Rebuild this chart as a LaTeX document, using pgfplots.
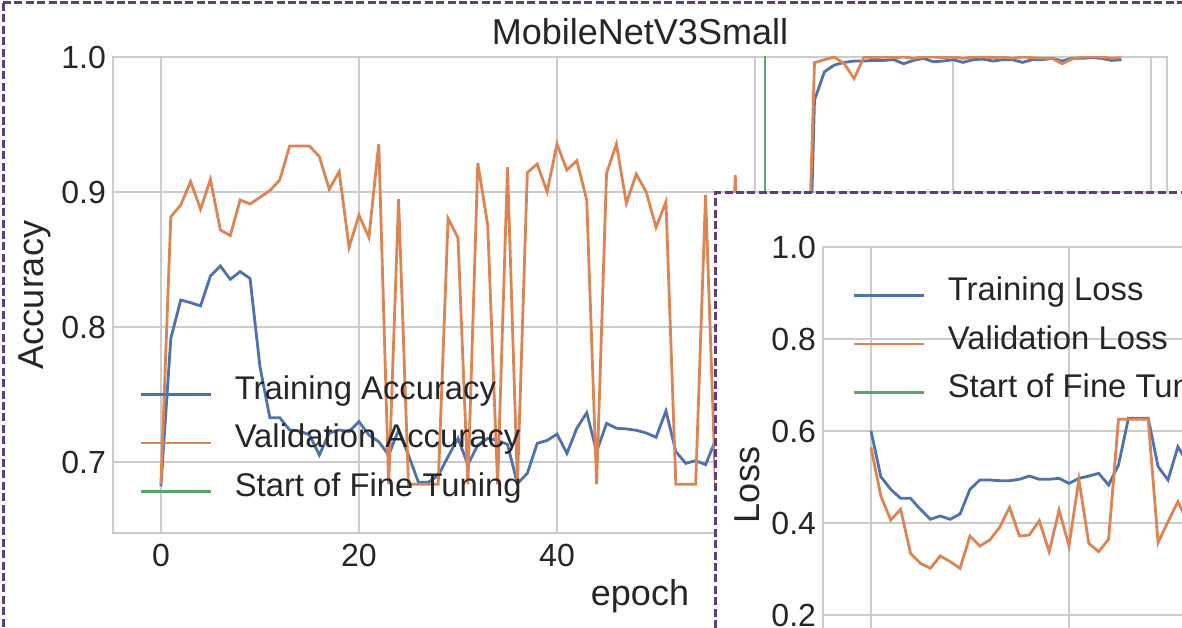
\documentclass[border=0pt]{standalone}
\usepackage{pgfplots}
\usepackage{pgfplotstable}
\pgfplotsset{compat=1.18}
\usepackage{fontspec}
\setmainfont{Liberation Sans}
\definecolor{cblue}{HTML}{4C72B0}
\definecolor{corange}{HTML}{DD8452}
\definecolor{cgreen}{HTML}{55A868}
\definecolor{gridc}{HTML}{CCCCCC}
\definecolor{txt}{HTML}{262626}
\definecolor{bord}{HTML}{5E3D80}

\pgfplotstableread{
e tacc vacc
0 0.682 0.6835
1 0.7916 0.8817
2 0.820 0.8904
3 0.818 0.9077
4 0.8156 0.8872
5 0.8378 0.9094
6 0.8452 0.8719
7 0.8353 0.8677
8 0.841 0.8941
9 0.836 0.8911
10 0.7706 0.8960
11 0.7328 0.9010
12 0.7328 0.9089
13 0.7237 0.9341
14 0.723 0.9341
15 0.720 0.9341
16 0.7052 0.9262
17 0.7215 0.9020
18 0.7237 0.9151
19 0.7225 0.8590
20 0.7299 0.883
21 0.720 0.8664
22 0.715 0.9356
23 0.7052 0.6835
24 0.7237 0.8946
25 0.705 0.6835
26 0.685 0.6835
27 0.685 0.6835
28 0.690 0.6835
29 0.704 0.8805
30 0.7175 0.866
31 0.698 0.6835
32 0.7126 0.9213
33 0.7175 0.8756
34 0.716 0.6835
35 0.713 0.9183
36 0.684 0.6835
37 0.6916 0.9143
38 0.7138 0.9207
39 0.716 0.9002
40 0.7207 0.9356
41 0.7064 0.9163
42 0.725 0.9232
43 0.7365 0.8941
44 0.7077 0.6835
45 0.7286 0.9138
46 0.725 0.9356
47 0.7245 0.8916
48 0.7235 0.9133
49 0.7215 0.9002
50 0.7183 0.8738
51 0.7378 0.8928
52 0.7077 0.6835
53 0.699 0.6835
54 0.701 0.6835
55 0.698 0.8978
56 0.716 0.6835
57 0.712 0.6835
58 0.718 0.9126
59 0.710 0.6835
60 0.715 0.880
61 0.705 0.6835
62 0.720 0.890
63 0.720 0.6835
64 0.725 0.6835
65 0.700 0.750
66 0.968 0.9958
67 0.989 0.998
68 0.994 1.0
69 0.996 0.995
70 0.997 0.984
71 0.997 1.0
72 0.9975 0.9995
73 0.9975 1.0
74 0.998 0.9995
75 0.995 1.0
76 0.9975 0.999
77 0.999 1.0
78 0.9965 1.0
79 0.997 0.9995
80 0.998 1.0
81 0.996 0.999
82 0.998 1.0
83 0.9985 1.0
84 0.997 0.9995
85 0.998 1.0
86 0.998 0.999
87 0.996 1.0
88 0.998 0.9995
89 0.998 0.999
90 0.999 0.999
91 0.997 0.995
92 0.999 0.9985
93 0.999 1.0
94 0.9995 1.0
95 0.999 1.0
96 0.9975 0.999
97 0.998 0.9995
}\acc

\pgfplotstableread{
e tl vl
0 0.6007 0.5645
1 0.5007 0.4587
2 0.4732 0.4065
3 0.4536 0.4297
4 0.4536 0.334
5 0.4297 0.3123
6 0.408 0.3015
7 0.4152 0.3283
8 0.408 0.316
9 0.4196 0.3015
10 0.4732 0.3717
11 0.4935 0.35
12 0.4935 0.363
13 0.4920 0.3906
14 0.492 0.4341
15 0.495 0.3717
16 0.5022 0.374
17 0.495 0.405
18 0.495 0.3377
19 0.4971 0.4283
20 0.4862 0.35
21 0.497 0.495
22 0.502 0.3558
23 0.508 0.3377
24 0.4826 0.3645
25 0.526 0.6254
26 0.6275 0.6254
27 0.6275 0.6254
28 0.6275 0.6254
29 0.5225 0.3572
30 0.4935 0.403
31 0.5659 0.4463
32 0.53 0.40
33 0.50 0.38
}\loss

\pgfplotsset{
  mystyle/.style={
    scale only axis, width=527pt, height=238pt,
    xmin=-4.84, xmax=101.6,
    xtick={0,20,40,60,80,100},
    grid=major, grid style={gridc, line width=1pt},
    axis line style={gridc, line width=1pt},
    major tick length=0pt,
    tick label style={font=\fontsize{16}{19}\selectfont, text=txt},
    /pgf/number format/assume math mode=true,
    yticklabel style={/pgf/number format/.cd, fixed, fixed zerofill, precision=1},
    xticklabel style={yshift=-2pt},
    label style={font=\fontsize{18}{21}\selectfont, text=txt},
    legend cell align=left,
    legend image code/.code={\draw[##1] (0pt,0pt) -- (35pt,0pt); \path (46pt,0pt);},
    legend style={draw=none, fill=none, inner sep=0pt, outer sep=0pt, anchor=north west,
      font=\fontsize{16.4}{19}\selectfont, text=txt, row sep=14.9pt, column sep=0pt,
      nodes={inner sep=0pt, text height=0.72em, text depth=0.22em}},
  }
}

\begin{document}
\color{txt}
\begin{tikzpicture}
\useasboundingbox (0,0) rectangle (591pt,313.5pt);
\clip (0,0) rectangle (591pt,313.5pt);

\begin{axis}[mystyle,
  at={(56.5pt,47pt)}, anchor=south west,
  ymin=0.6474, ymax=1.0,
  ytick={0.7,0.8,0.9,1.0},
  title={MobileNetV3Small},
  title style={at={(0.5,1.002)}, anchor=base, font=\fontsize{18}{21}\selectfont, text=txt},
  xlabel={epoch},
  xlabel style={at={(axis description cs:0.5,-0.153)}, anchor=base},
  ylabel={Accuracy},
  ylabel style={at={(axis description cs:-0.0655,0.5)}, anchor=base},
  legend style={at={(axis description cs:0.0256,0.311)}},
]
\addplot[cblue, line width=1.4pt] table[x=e, y=tacc] {\acc};
\addlegendentry{Training Accuracy}
\addplot[corange, line width=1.4pt] table[x=e, y=vacc] {\acc};
\addlegendentry{Validation Accuracy}
\addplot[cgreen, line width=1.4pt] coordinates {(61,0.6) (61,1.1)};
\addlegendentry{Start of Fine Tuning}
\end{axis}

% outer panel border
\draw[bord, line width=1.5pt, dash pattern=on 4pt off 1.7pt] (1.5pt,312pt) -- (800pt,312pt);
\draw[bord, line width=1.5pt, dash pattern=on 4pt off 1.7pt] (1.5pt,312pt) -- (1.5pt,-100pt);

% inset panel
\fill[white] (357.5pt,217pt) rectangle (800pt,-200pt);
\draw[bord, line width=1.5pt, dash pattern=on 4pt off 1.7pt] (357.5pt,-200pt) -- (357.5pt,217pt) -- (800pt,217pt);

\begin{axis}[mystyle,
  at={(411.5pt,-48pt)}, anchor=south west,
  ymin=-0.0348, ymax=1.0,
  ytick={0.2,0.4,0.6,0.8,1.0},
  ylabel={Loss},
  ylabel style={at={(axis description cs:-0.0607,0.5)}, anchor=base},
  legend style={at={(axis description cs:0.0285,0.918)}},
]
\addplot[cblue, line width=1.4pt] table[x=e, y=tl] {\loss};
\addlegendentry{Training Loss}
\addplot[corange, line width=1.4pt] table[x=e, y=vl] {\loss};
\addlegendentry{Validation Loss}
\addplot[cgreen, line width=1.4pt] coordinates {(61,-0.1) (61,1.1)};
\addlegendentry{Start of Fine Tuning}
\end{axis}
\end{tikzpicture}
\end{document}
